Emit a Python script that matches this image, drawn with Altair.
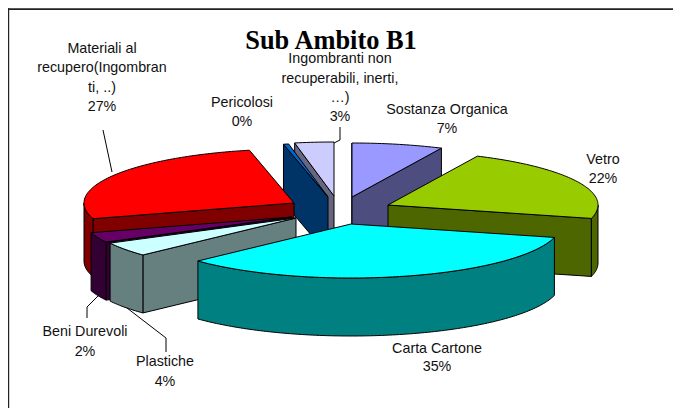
import math
import altair as alt

# Slice data (order clockwise from 12 o'clock)
names = ["Sostanza Organica", "Vetro", "Carta Cartone", "Plastiche", "Beni Durevoli",
         "Materiali al recupero", "Pericolosi", "Ingombranti non recuperabili"]
shares = [7.0, 22.0, 34.0, 4.3, 3.0, 26.3, 0.4, 3.0]
apex_x = [352, 388, 351, 296, 292, 294, 328, 334]
apex_y = [197, 205, 224, 218, 217, 203, 197, 196]
top_colors = ["#9999FF", "#99CC00", "#00FFFF", "#CCFFFF", "#660066", "#FF0000", "#0066CC", "#CCCCFF"]
side_colors = ["#4D4D80", "#4D6600", "#008080", "#668080", "#330033", "#800000", "#003366", "#666680"]
draw_order = [0, 7, 6, 1, 5, 4, 3, 2]

RX, RY, DEPTH = 210, 54, 58
OX, OY = 8, 8  # page margin

# Text lines: (text, centre x, middle y)
label_text = ["Materiali al", "recupero(Ingombran", "ti, ..)", "27%",
              "Pericolosi", "0%",
              "Ingombranti non", "recuperabili, inerti,", "…)", "3%",
              "Sostanza Organica", "7%",
              "Vetro", "22%",
              "Carta Cartone", "35%",
              "Plastiche", "4%",
              "Beni Durevoli", "2%"]
label_x = [102, 102, 102, 102, 242, 242, 340, 340, 340, 340, 447, 447, 603, 603, 437, 437, 165, 165, 85, 85]
label_y = [49, 68, 88, 107, 103, 122, 59, 79, 98, 117, 110, 129, 160, 179, 349, 367, 362, 382, 332, 352]

leader_id = [0, 0, 1, 1, 1, 2, 2, 2, 3, 3, 3]
leader_x = [103, 112, 340, 340, 334, 87, 87, 98, 166, 166, 127]
leader_y = [130, 172, 127, 140, 143, 318, 307, 296, 352, 338, 308]


def pt(i, deg, drop=0):
    t = math.radians(deg)
    return [apex_x[i] + RX * math.sin(t) - OX, apex_y[i] - RY * math.cos(t) + drop - OY]


def poly(pts, fill):
    return {"type": "Feature", "properties": {"fill": fill},
            "geometry": {"type": "Polygon", "coordinates": [pts + [pts[0]]]}}


starts, acc = [], 0.0
for s in shares:
    starts.append(acc * 3.6)
    acc += s

features = []
for i in draw_order:
    t0 = starts[i]
    t1 = t0 + shares[i] * 3.6
    a = [apex_x[i] - OX, apex_y[i] - OY]
    a2 = [a[0], a[1] + DEPTH]
    mid = pt(i, (t0 + t1) / 2)
    mx, my = mid[0] - a[0], mid[1] - a[1]
    for t in (t0, t1):
        p = pt(i, t)
        ex, ey = p[0] - a[0], p[1] - a[1]
        if (ex * my - ey * mx) * (1 if ex > 0 else -1) < 0:
            features.append(poly([a, p, pt(i, t, DEPTH), a2], side_colors[i]))
    lo, hi = max(t0, 90), min(t1, 270)
    if lo < hi:
        n = max(2, int(hi - lo))
        degs = [lo + (hi - lo) * k / n for k in range(n + 1)]
        features.append(poly([pt(i, d) for d in degs] + [pt(i, d, DEPTH) for d in reversed(degs)], side_colors[i]))
    n = max(2, int(t1 - t0))
    features.append(poly([a] + [pt(i, t0 + (t1 - t0) * k / n) for k in range(n + 1)], top_colors[i]))

pie = alt.Chart(alt.InlineData(values=features)).mark_geoshape(stroke="black", strokeWidth=1).encode(
    color=alt.Color("properties.fill:N", scale=None)
).project(type="identity", scale=1, translate=[0, 0])

labels = alt.Chart(alt.InlineData(values=[
    {"t": t, "x": x - OX, "y": y - OY} for t, x, y in zip(label_text, label_x, label_y)
])).mark_text(font="Liberation Sans", fontSize=14.3, color="#111111", align="center", baseline="middle").encode(
    x=alt.X("x:Q", scale=None), y=alt.Y("y:Q", scale=None), text="t:N")

title = alt.Chart(alt.InlineData(values=[{"t": "Sub Ambito B1", "x": 331 - OX, "y": 41 - OY}])).mark_text(
    font="Liberation Serif", fontSize=26.4, fontWeight="bold", color="black", align="center", baseline="middle"
).encode(x=alt.X("x:Q", scale=None), y=alt.Y("y:Q", scale=None), text="t:N")

leaders = alt.Chart(alt.InlineData(values=[
    {"id": g, "x": x - OX, "y": y - OY, "o": k} for k, (g, x, y) in enumerate(zip(leader_id, leader_x, leader_y))
])).mark_line(color="black", strokeWidth=1).encode(
    x=alt.X("x:Q", scale=None), y=alt.Y("y:Q", scale=None), detail="id:N", order="o:Q")

# The frame shows only its top and left edges; the rest lies outside the picture
frame_left = alt.Chart(alt.InlineData(values=[{"x": 0, "x2": 1.2, "y": 0.2, "y2": 400}])).mark_rect(
    fill="#222222"
).encode(x=alt.X("x:Q", scale=None), x2="x2:Q", y=alt.Y("y:Q", scale=None), y2="y2:Q")
frame_top = alt.Chart(alt.InlineData(values=[{"x": 0, "x2": 665, "y": 0.2, "y2": 2}])).mark_rect(
    fill="#222222"
).encode(x=alt.X("x:Q", scale=None), x2="x2:Q", y=alt.Y("y:Q", scale=None), y2="y2:Q")

chart = alt.layer(frame_left, frame_top, pie, leaders, labels, title).properties(
    width=665, height=400, padding=0, background="white"
).configure_view(stroke=None)

chart.save("out.html", embed_options={"renderer": "svg", "actions": False})
